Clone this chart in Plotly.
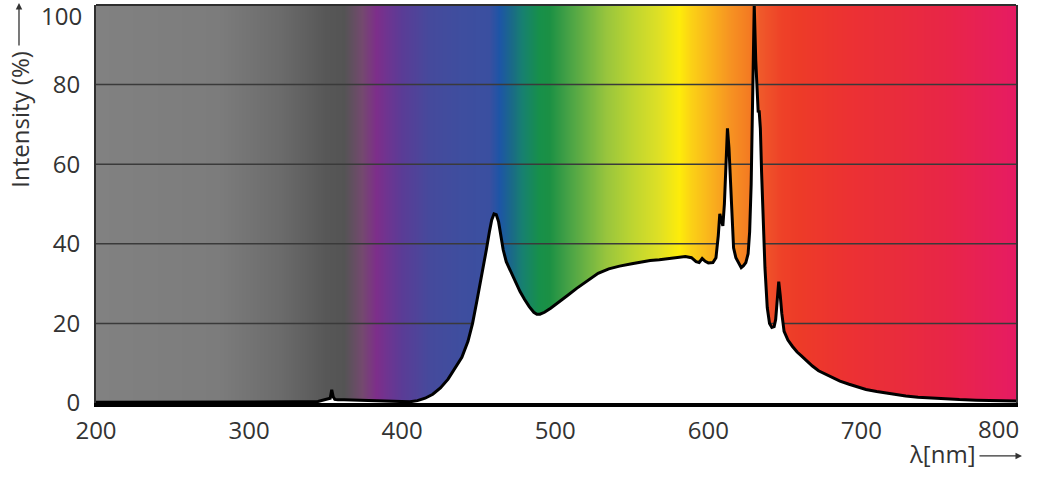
import plotly.graph_objects as go

# spectrum curve (wavelength nm, relative intensity %)
wavelength = [200, 250, 300, 330, 345, 350, 352, 353, 354, 355, 356, 358, 362, 370, 380, 390,
              400, 405, 410, 415, 420, 425, 430, 435, 439, 443, 446, 449, 452, 455, 457, 458.5,
              460, 461.5, 463, 464.5, 466, 468, 471, 474, 477, 480, 483, 486, 488, 490, 493, 497, 502,
              508, 514, 520, 528, 535, 542, 550, 555, 562, 568, 575, 581, 585, 589, 592, 594,
              596, 598, 600, 603, 605, 606.5, 607.5, 608.5, 609.5, 610.5, 611.5, 612.5, 613.5,
              614.5, 615.5, 616.5, 618, 620, 621.5, 623, 624.5, 626, 627, 628, 629, 630, 631,
              632, 632.6, 633.2, 634, 634.8, 636, 637, 638.5, 640, 641.5, 643, 644, 645, 646,
              647, 648, 649.5, 652, 655, 658, 661, 665, 668, 672, 676, 681, 686, 692, 697, 703,
              710, 716, 722, 729, 737, 746, 755, 764, 775, 790, 801]
intensity = [0.2, 0.2, 0.2, 0.3, 0.4, 0.8, 1.0, 1.2, 3.3, 1.5, 0.9, 0.8, 0.8, 0.7, 0.5, 0.4,
             0.3, 0.3, 0.6, 1.2, 2.2, 3.8, 6, 9, 11.5, 15.5, 20, 26, 32, 38.5, 43, 46,
             47.5, 47.3, 45.5, 42, 38.5, 35.5, 33, 30.5, 28, 26, 24.2, 22.8, 22.3, 22.3, 22.8, 23.8, 25.2,
             27, 28.8, 30.5, 32.6, 33.7, 34.4, 35, 35.4, 35.8, 36, 36.3, 36.6, 36.8, 36.5, 35.5, 35.3,
             36.3, 35.6, 35.2, 35.3, 36.5, 42, 47.5, 46, 44.5, 50, 60, 69, 64,
             55, 45, 39, 36.5, 35, 34, 34.5, 35.3, 37.5, 43, 55, 76, 100, 86,
             76, 73, 73.5, 69, 58, 44, 34, 24, 20, 19, 19.2, 21, 26, 30.5,
             27, 22.5, 18, 15.8, 14.2, 12.8, 11.8, 10.3, 9.3, 8.1, 7.3, 6.3, 5.5, 4.7, 4.1, 3.4,
             2.9, 2.5, 2.1, 1.75, 1.45, 1.2, 1.0, 0.85, 0.7, 0.55, 0.5]

# background spectrum colours
band_nm = [190, 200, 280, 320, 350, 362, 374, 383, 392, 400, 418, 440, 457, 463, 472, 478.5,
           489.6, 496, 507, 520, 533, 550, 568, 581, 589, 602, 615, 626, 630, 633, 648, 659,
           692, 724, 757, 790, 800, 810]
band_color = ["#818181", "#818181", "#7c7c7c", "#6b6b6b", "#575757", "#545454", "#74496f",
              "#7d2e8a", "#6a3692", "#5a3c96", "#454a9c", "#3e4e9f", "#3a4fa0", "#1d55a6",
              "#1a6b86", "#178070", "#17904a", "#1b9044", "#42a046", "#6db343", "#98c53d",
              "#bdd531", "#dfe025", "#fdec0a", "#fbd116", "#f9b11d", "#f69122", "#f47c22",
              "#f26d25", "#ef5a2a", "#ee4128", "#ed3b28", "#ec3133", "#e92c3c", "#e82548",
              "#e71e5c", "#e61b62", "#e61b62"]

x_ticks = [200, 300, 400, 500, 600, 700, 800]
y_ticks = [0, 20, 40, 60, 80, 100]
grid_vals = [20, 40, 60, 80]
x_range = [200, 801]

lo, hi = band_nm[0], band_nm[-1]
cscale = [[(w - lo) / (hi - lo), c] for w, c in zip(band_nm, band_color)]

fig = go.Figure()
fig.add_trace(go.Heatmap(x=band_nm, y=[-10, 110], z=[band_nm, band_nm], zmin=lo, zmax=hi,
                         colorscale=cscale, zsmooth="best", showscale=False, hoverinfo="skip"))

for g in grid_vals:
    fig.add_trace(go.Scatter(x=x_range, y=[g, g], mode="lines",
                             line=dict(color="#3a3a3a", width=1.5), hoverinfo="skip"))

fig.add_trace(go.Scatter(x=wavelength, y=intensity, mode="lines", fill="tozeroy",
                         fillcolor="white", line=dict(color="black", width=3)))

font = dict(family="Open Sans", size=24, color="#333333")

# end labels are nudged inwards, so they are drawn as annotations
fig.update_xaxes(range=x_range, tickvals=x_ticks,
                 ticktext=[str(v) if v != x_ticks[-1] else "" for v in x_ticks],
                 showgrid=False, zeroline=False,
                 showline=True, linecolor="black", linewidth=3.5,
                 ticks="outside", ticklen=3, tickcolor="rgba(0,0,0,0)", tickfont=font)
fig.update_yaxes(range=[0, 100], tickvals=y_ticks,
                 ticktext=[str(v) if v != y_ticks[-1] else "" for v in y_ticks],
                 showgrid=False, zeroline=False, showline=True, mirror=True,
                 linecolor="#2e2e2e", linewidth=2,
                 ticks="outside", ticklen=9, tickcolor="rgba(0,0,0,0)", tickfont=font)

fig.add_shape(type="line", xref="paper", yref="paper", x0=0, x1=1, y0=1, y1=1,
              line=dict(color="#2e2e2e", width=2))

fig.add_annotation(text=str(y_ticks[-1]), xref="paper", yref="y", x=0, y=y_ticks[-1],
                   xanchor="right", yanchor="middle", xshift=-12, yshift=-10,
                   showarrow=False, font=font)
fig.add_annotation(text=str(x_ticks[-1]), xref="x", yref="paper", x=x_ticks[-1], y=0,
                   xanchor="center", yanchor="middle", xshift=-16, yshift=-25,
                   showarrow=False, font=font)

# axis titles with arrows
fig.add_annotation(text="Intensity (%)", xref="paper", yref="paper", x=-0.0826, y=0.712,
                   xanchor="center", yanchor="middle", textangle=-90, showarrow=False, font=font)
fig.add_annotation(text="", xref="paper", yref="paper", x=-0.0837, y=1.005, ax=0, ay=44,
                   showarrow=True, arrowhead=2, arrowsize=1, arrowwidth=1.3, arrowcolor="#333333")
fig.add_annotation(text="λ[nm]", xref="paper", yref="paper", x=0.920, y=-0.128,
                   xanchor="center", yanchor="middle", showarrow=False, font=font)
fig.add_annotation(text="", xref="paper", yref="paper", x=1.0065, y=-0.133, ax=-44, ay=0,
                   showarrow=True, arrowhead=2, arrowsize=1, arrowwidth=1.3, arrowcolor="#333333")

fig.update_layout(width=1052, height=487, margin=dict(l=96, r=36, t=5, b=84),
                  paper_bgcolor="white", plot_bgcolor="white", showlegend=False)

fig.write_html("out.html", config={"displayModeBar": False},
               post_script="document.body.style.margin = '0';")
